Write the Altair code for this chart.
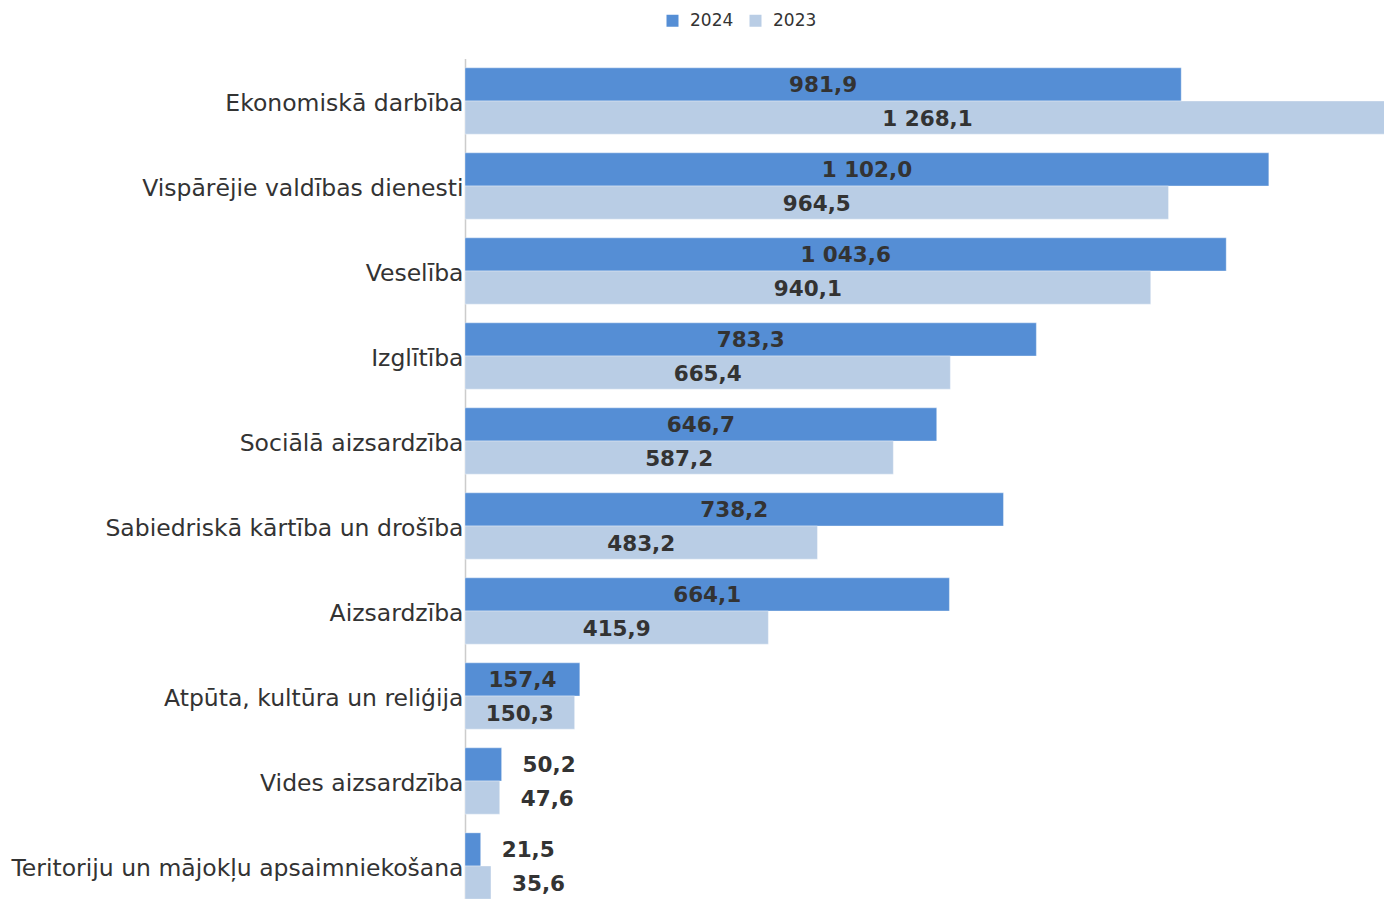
import altair as alt
import pandas as pd

categories = [
    "Ekonomiskā darbība",
    "Vispārējie valdības dienesti",
    "Veselība",
    "Izglītība",
    "Sociālā aizsardzība",
    "Sabiedriskā kārtība un drošība",
    "Aizsardzība",
    "Atpūta, kultūra un reliģija",
    "Vides aizsardzība",
    "Teritoriju un mājokļu apsaimniekošana",
]
values_2024 = [981.9, 1102.0, 1043.6, 783.3, 646.7, 738.2, 664.1, 157.4, 50.2, 21.5]
values_2023 = [1268.1, 964.5, 940.1, 665.4, 587.2, 483.2, 415.9, 150.3, 47.6, 35.6]
series = ["2024", "2023"]
colors = ["#558ed5", "#b9cde5"]


def fmt(v):
    s = f"{v:,.1f}"
    return s.replace(",", " ").replace(".", ",")


rows = []
for i, c in enumerate(categories):
    for s, vals in zip(series, [values_2024, values_2023]):
        v = vals[i]
        rows.append({"cat": c, "year": s, "value": v, "label": fmt(v),
                     "inside": v > 100})
df = pd.DataFrame(rows)

FONT = "DejaVu Sans"

y_enc = alt.Y("cat:N", sort=categories, title=None,
              scale=alt.Scale(paddingInner=0.22, paddingOuter=0.11),
              axis=alt.Axis(labelFontSize=23.5, labelColor="#333333", labelFont=FONT,
                            ticks=False, labelPadding=2, labelOffset=2.5,
                            domainColor="#cccccc", domainWidth=1.5, labelLimit=600))
# plot area is 919 px wide; the axis maximum sits just past the right edge
x_scale = alt.Scale(domain=[0, 1259.9], nice=False, zero=True)
yoff = alt.YOffset("year:N", sort=series)

base = alt.Chart(df).encode(y=y_enc, yOffset=yoff)

bars = base.mark_bar(stroke="#ffffff", strokeWidth=0.6, strokeOpacity=0.6).encode(
    x=alt.X("value:Q", scale=x_scale, axis=None, title=None),
    color=alt.Color("year:N", sort=series,
                    scale=alt.Scale(domain=series, range=colors),
                    legend=alt.Legend(title=None, orient="none", direction="horizontal",
                                      legendX=199, legendY=-46.5, symbolType="square",
                                      symbolSize=144, symbolStrokeWidth=0,
                                      labelFontSize=17, labelFont=FONT,
                                      labelColor="#333333", columnPadding=13,
                                      labelOffset=9, padding=0)),
)

text_in = base.transform_filter("datum.inside").transform_calculate(
    mid="datum.value / 2"
).mark_text(font=FONT, fontSize=21.5, fontWeight="bold", color="#333333",
            align="center", baseline="middle", dy=2).encode(
    x=alt.X("mid:Q", scale=x_scale, axis=None),
    text="label:N",
)

text_out = base.transform_filter("!datum.inside").mark_text(
    font=FONT, fontSize=21.5, fontWeight="bold", color="#333333",
    align="left", baseline="middle", dx=21, dy=2).encode(
    x=alt.X("value:Q", scale=x_scale, axis=None),
    text="label:N",
)

chart = alt.layer(bars, text_in, text_out).properties(
    width=919, height=850,
    autosize=alt.AutoSizeParams(type="none"),
    padding={"left": 457, "top": 50.5, "right": 0, "bottom": 0},
).configure(font=FONT).configure_view(stroke=None)

chart.save("out.html", embed_options={"renderer": "svg", "actions": False})
